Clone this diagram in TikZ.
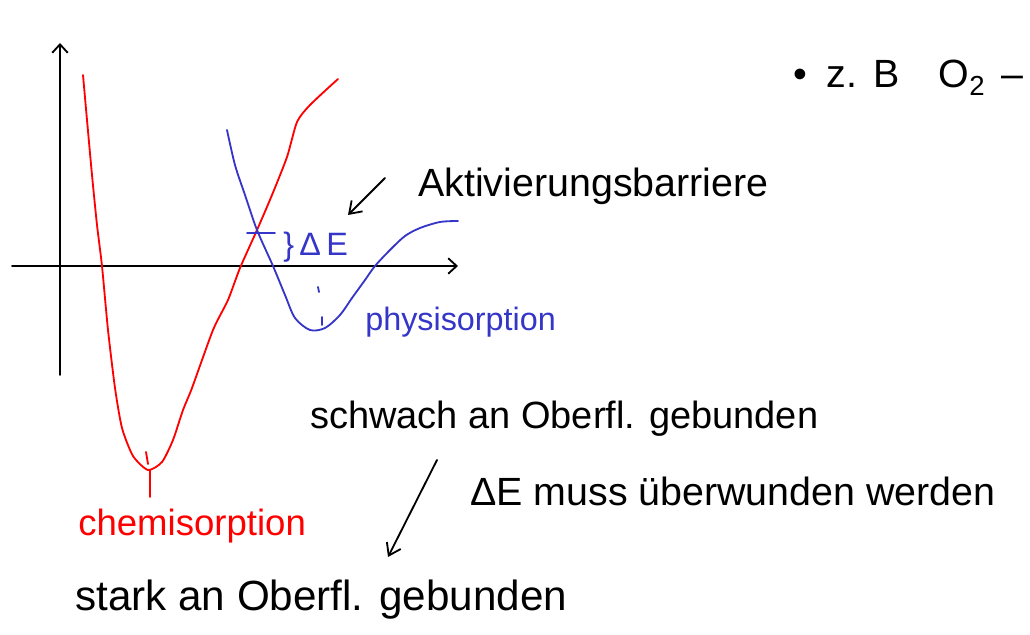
\documentclass[tikz,border=0pt]{standalone}
\usepackage{fontspec}
\setmainfont{Liberation Sans}
\usetikzlibrary{arrows.meta,positioning}
\definecolor{chem}{HTML}{FF0000}
\definecolor{phys}{HTML}{3535C8}

\begin{document}
\begin{tikzpicture}[x=0.025cm,y=-0.025cm,
   ink/.style={line width=1.3pt,line cap=round,line join=round},
   ax/.style={ink,draw=black,-{Straight Barb[length=6pt,width=11pt]}},
   pt/.style={ink,draw=black,-{Straight Barb[length=8pt,width=11pt]}},
   t/.style={inner sep=0pt,anchor=base west,font=\fontsize{28}{30}\selectfont}]
  \useasboundingbox (0,0) rectangle (1030,635);
  % axes
  \coordinate (o1) at (60,375); \coordinate (yt) at (60,43);
  \coordinate (o2) at (12,266); \coordinate (xt) at (458,266);
  \draw[ax] (o1) -- (yt);
  \draw[ax] (o2) -- (xt);
  % chemisorption curve
  \draw[ink,chem] plot[smooth,tension=0.4] coordinates {(83,75) (87,120) (92,175) (97,225) (102,266)
    (108,330) (115,388) (122,428) (133,456) (148,470) (162,462) (173,440) (183,410) (192,388)
    (213,330) (228,300) (240,268) (257,230) (272,195) (287,157) (297,122) (310,105) (338,79)};
  \draw[ink,chem] (150,470) -- (150,497);
  \draw[ink,chem] (146,452) -- (148,464);
  % physisorption curve
  \draw[ink,phys] plot[smooth,tension=0.5] coordinates {(227,130) (235,165) (245,195) (257,230)
    (273,266) (285,295) (295,318) (310,330) (325,328) (340,315) (352,298) (365,280) (375,266)
    (390,250) (405,236) (420,228) (440,222) (458,221)};
  \draw[ink,phys] (247,233) -- (275,233);
  \draw[ink,phys] (318,287) -- (319,292);
  \draw[ink,phys] (322,317) -- (322,325);
  % labels
  \node[t,phys,font=\fontsize{23}{25}\selectfont] (de) at (283,256) {\}\,Δ\,E};
  \node[t] (akt) at (418,197) {Aktivierungsbarriere};
  \node[t,phys,font=\fontsize{23}{25}\selectfont] (phy) at (365,330) {physisorption};
  \node[t,chem,font=\fontsize{26}{28}\selectfont] (che) at (78,535) {chemisorption};
  \node[t,font=\fontsize{27}{29}\selectfont] (schw) at (310,428) {schwach an Oberfl. gebunden};
  \node[t] (muss) at (470,505) {ΔE muss überwunden werden};
  \node[t,font=\fontsize{30}{32}\selectfont] (stark) at (75,610) {stark an Oberfl. gebunden};
  \node[t] (zb) at (793,88) {\textbullet\hspace{0.5em}z.\hspace{0.4em}B\hspace{1em}O\textsubscript{2}\hspace{0.4em}–};
  % pointers
  \coordinate (a1) at (385,178); \coordinate (a2) at (348,215);
  \coordinate (b1) at (437,460); \coordinate (b2) at (388,557);
  \draw[pt] (a1) -- (a2);
  \draw[pt] (b1) -- (b2);
\end{tikzpicture}
\end{document}
